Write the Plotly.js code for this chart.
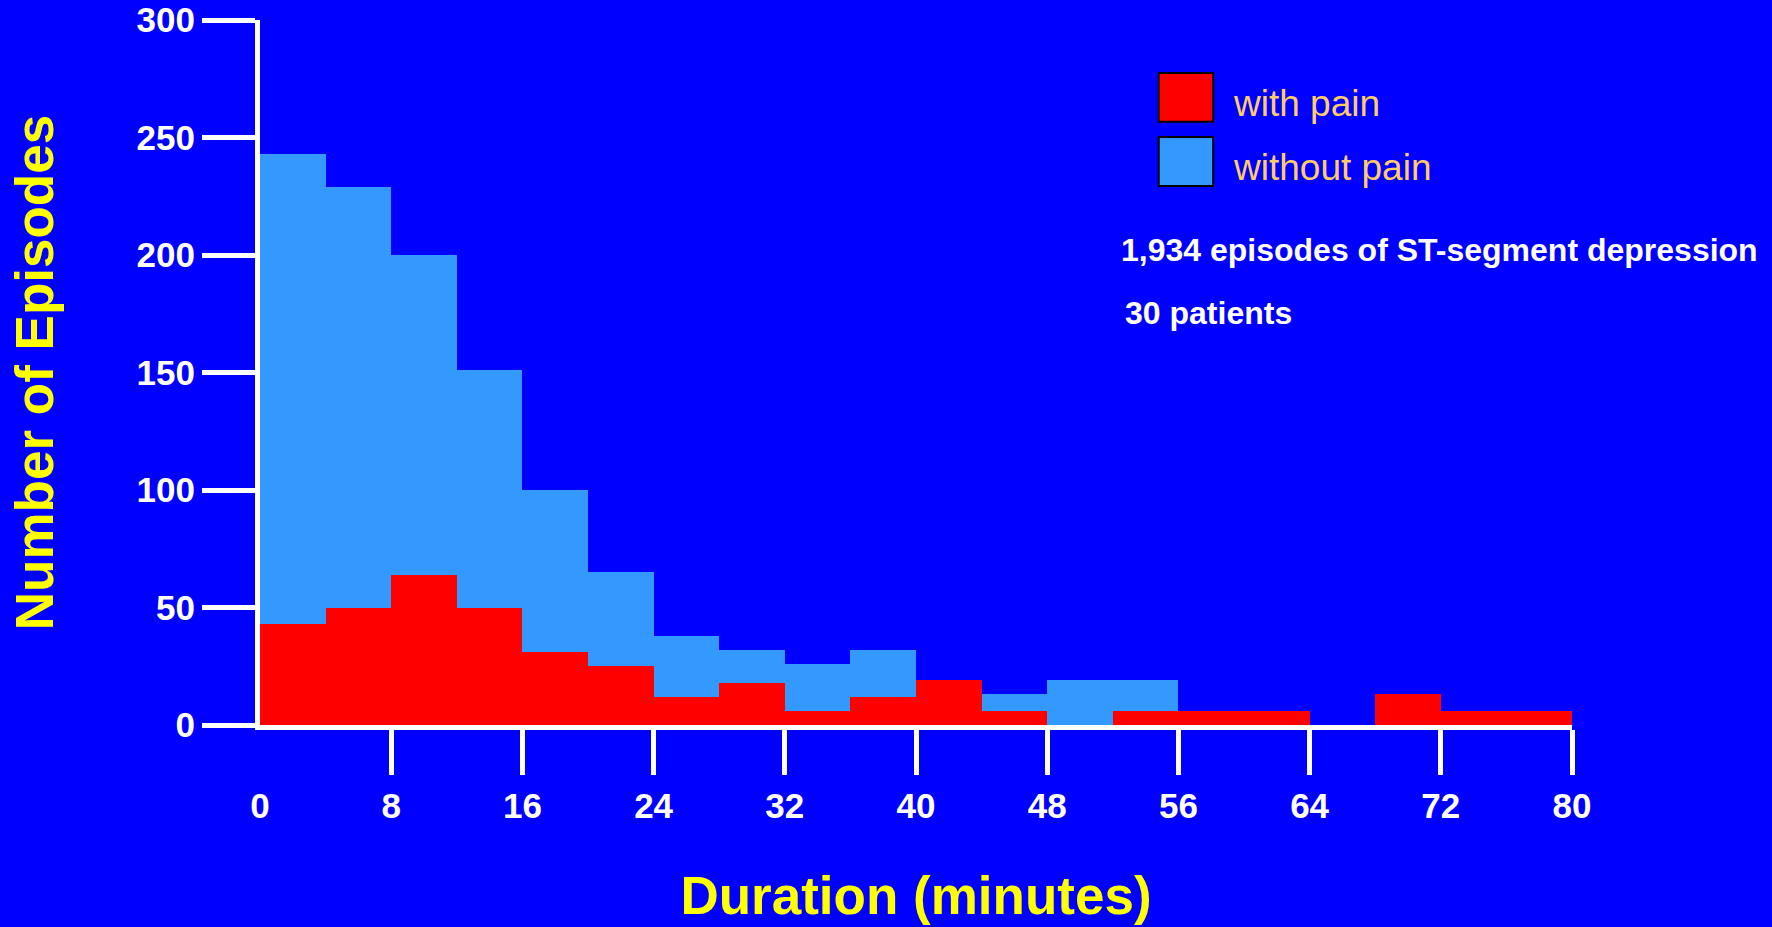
<!DOCTYPE html>
<html>
<head>
<meta charset="utf-8">
<script src="https://cdn.plot.ly/plotly-3.0.1.min.js"></script>
<style>
  html, body { margin: 0; padding: 0; background: #0000FF; }
  #chart { width: 1772px; height: 927px; }
</style>
</head>
<body>
<div id="chart"></div>
<script>
// Episode duration histogram: 4-minute bins from 0 to 80 minutes
const binStart = [0, 4, 8, 12, 16, 20, 24, 28, 32, 36, 40, 44, 48, 52, 56, 60, 64, 68, 72, 76];
const binWidth = 4;

// Number of episodes per bin
const withPain    = [43, 50, 64, 50, 31, 25, 12, 18, 6, 12, 19, 6, 0, 6, 6, 6, 0, 13, 6, 6];
const withoutPain = [243, 229, 200, 151, 100, 65, 38, 32, 26, 32, 0, 13, 19, 19, 0, 0, 0, 0, 0, 0];

const seriesNames = ['with pain', 'without pain'];

// Axis ticks
const xTicks = [0, 8, 16, 24, 32, 40, 48, 56, 64, 72, 80];
const yTicks = [0, 50, 100, 150, 200, 250, 300];

// Notes shown at the upper right
const notes = ['1,934 episodes of ST-segment depression', '30 patients'];

const FONT = 'Liberation Sans, Arial, Helvetica, sans-serif';
const BG = '#0000FF';
const RED = '#FF0000';
const LIGHT_BLUE = '#3399FF';
const YELLOW = '#FFFF00';
const LEGEND_TEXT = '#FFCC66';

const traces = [
  {
    type: 'bar', name: seriesNames[1],
    x: binStart, y: withoutPain, width: binWidth, offset: 0,
    marker: { color: LIGHT_BLUE, line: { width: 0 } },
    hoverinfo: 'skip'
  },
  {
    type: 'bar', name: seriesNames[0],
    x: binStart, y: withPain, width: binWidth, offset: 0,
    marker: { color: RED, line: { width: 0 } },
    hoverinfo: 'skip'
  }
];

// Legend keys (paper coordinates) drawn as framed squares
const keyColors = [RED, LIGHT_BLUE];
const keyTop = [0.925, 0.834];
const keyH = 0.0695;
const shapes = keyColors.map((c, i) => ({
  type: 'rect', xref: 'paper', yref: 'paper', layer: 'above',
  x0: 0.685, x1: 0.7265, y0: keyTop[i] - keyH, y1: keyTop[i],
  fillcolor: c, line: { color: '#000000', width: 2 }
}));

const annotations = [
  ...seriesNames.map((t, i) => ({
    xref: 'paper', yref: 'paper', x: 0.74, y: keyTop[i] - keyH / 2 - 0.008,
    xanchor: 'left', yanchor: 'middle', showarrow: false, text: t,
    font: { family: FONT, size: 37, color: LEGEND_TEXT }
  })),
  {
    xref: 'paper', yref: 'paper', x: 0.655, y: 0.674,
    xanchor: 'left', yanchor: 'middle', showarrow: false, text: notes[0],
    font: { family: FONT, size: 32, color: '#FFFFFF', weight: 'bold' }
  },
  {
    xref: 'paper', yref: 'paper', x: 0.658, y: 0.5845,
    xanchor: 'left', yanchor: 'middle', showarrow: false, text: notes[1],
    font: { family: FONT, size: 32, color: '#FFFFFF', weight: 'bold' }
  }
];

const layout = {
  width: 1772, height: 927,
  paper_bgcolor: BG, plot_bgcolor: BG,
  margin: { l: 260, r: 200, t: 20, b: 202, pad: 0 },
  barmode: 'overlay', bargap: 0,
  showlegend: false,
  font: { family: FONT, color: '#FFFFFF' },
  xaxis: {
    range: [0, 80], fixedrange: true,
    showgrid: false, zeroline: false,
    showline: true, linecolor: '#FFFFFF', linewidth: 5,
    tickmode: 'array', tickvals: xTicks, ticktext: xTicks.map(String),
    ticks: '',
    minor: {
      tickmode: 'array', tickvals: xTicks.slice(1),
      ticks: 'outside', ticklen: 45, tickwidth: 5, tickcolor: '#FFFFFF', showgrid: false
    },
    ticklabelstandoff: 46,
    tickfont: { family: FONT, size: 35, color: '#FFFFFF', weight: 'bold' },
    title: {
      text: 'Duration (minutes)', standoff: 54,
      font: { family: FONT, size: 53, color: YELLOW, weight: 'bold' }
    },
    automargin: false
  },
  yaxis: {
    range: [0, 300], fixedrange: true,
    showgrid: false, zeroline: false,
    showline: true, linecolor: '#FFFFFF', linewidth: 5,
    tickmode: 'array', tickvals: yTicks, ticktext: yTicks.map(String),
    ticks: 'outside', ticklen: 53, tickwidth: 5, tickcolor: '#FFFFFF',
    tickfont: { family: FONT, size: 35, color: '#FFFFFF', weight: 'bold' },
    title: {
      text: 'Number of Episodes', standoff: 68,
      font: { family: FONT, size: 53, color: YELLOW, weight: 'bold' }
    },
    automargin: false
  },
  shapes: shapes,
  annotations: annotations
};

Plotly.newPlot('chart', traces, layout, { staticPlot: true, displayModeBar: false });
</script>
</body>
</html>
